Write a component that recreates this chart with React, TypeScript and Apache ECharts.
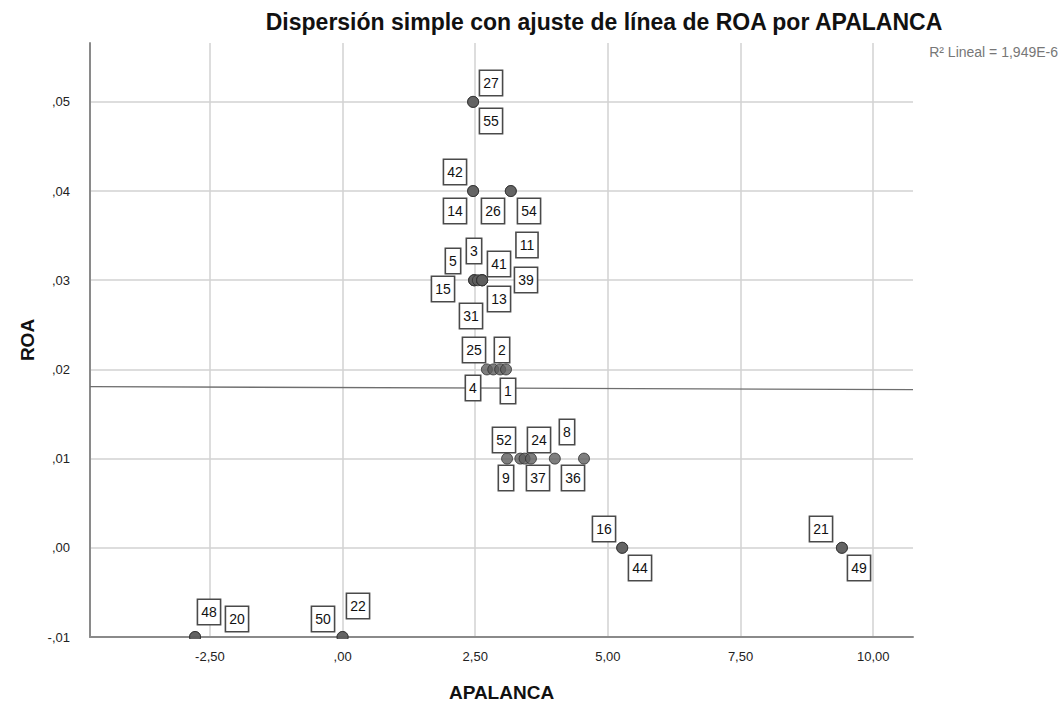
import React, { useEffect, useRef } from "react";
import * as echarts from "echarts";

// ---- Data ----
const CASE_IDS = [
  "27", "55",
  "42", "14", "26", "54",
  "3", "5", "15", "31", "41", "13", "11", "39",
  "25", "4", "2", "1",
  "9", "52", "37", "24", "8", "36",
  "16", "44", "21", "49",
  "48", "20", "50", "22",
];
const APALANCA = [
  2.46, 2.46,
  2.46, 2.46, 3.17, 3.17,
  2.48, 2.48, 2.48, 2.55, 2.63, 2.63, 2.63, 2.63,
  2.72, 2.84, 2.97, 3.08,
  3.10, 3.35, 3.43, 3.55, 4.0, 4.55,
  5.27, 5.27, 9.41, 9.41,
  -2.78, -2.78, 0.0, 0.0,
];
const ROA = [
  0.05, 0.05,
  0.04, 0.04, 0.04, 0.04,
  0.03, 0.03, 0.03, 0.03, 0.03, 0.03, 0.03, 0.03,
  0.02, 0.02, 0.02, 0.02,
  0.01, 0.01, 0.01, 0.01, 0.01, 0.01,
  0.0, 0.0, 0.0, 0.0,
  -0.01, -0.01, -0.01, -0.01,
];
// Fit line: endpoints at x-axis extent
const FIT_X = [-4.76, 10.75];
const FIT_Y = [0.01807, 0.01774];
const X_TICKS = [-2.5, 0, 2.5, 5, 7.5, 10];
const Y_TICKS = [-0.01, 0, 0.01, 0.02, 0.03, 0.04, 0.05];
const R2_TEXT = "R² Lineal = 1,949E-6";
const TITLE = "Dispersión simple con ajuste de línea de ROA por APALANCA";

// ---- Layout: label offsets (px) for each case label ----
const LABEL_OFFSETS: Record<string, [number, number]> = {
  "27": [18, -19], "55": [18, 19],
  "42": [-18, -19], "14": [-18, 20], "26": [-18, 20], "54": [18, 20],
  "3": [0, -29], "5": [-21, -19], "15": [-31, 9], "31": [-7, 36],
  "41": [17, -16], "13": [17, 19], "11": [45, -35], "39": [44, 0],
  "25": [-13, -19], "4": [-20, 19], "2": [2, -19], "1": [2, 22],
  "9": [-1, 19], "52": [-16, -19], "37": [13, 19], "24": [8, -19], "8": [12, -27], "36": [-11, 19],
  "16": [-18, -19], "44": [18, 20], "21": [-21, -19], "49": [17, 20],
  "48": [14, -25], "20": [42, -18], "50": [-20, -18], "22": [15, -31],
};

const FONT = "Arial, 'Liberation Sans', sans-serif";

function spssFmt(v: number): string {
  let s = Math.abs(v).toFixed(2);
  if (s.startsWith("0")) s = s.slice(1);
  s = s.replace(".", ",");
  return (v < -1e-9 ? "-" : "") + s;
}

export default function App() {
  const ref = useRef<HTMLDivElement>(null);
  useEffect(() => {
    if (!ref.current) return;
    const chart = echarts.init(ref.current, undefined, { renderer: "svg" });
    const pts = CASE_IDS.map((id, i) => [APALANCA[i], ROA[i], i]);
    chart.setOption({
      animation: false,
      backgroundColor: "#ffffff",
      grid: { left: 90, right: 150, top: 43, bottom: 70, containLabel: false },
      xAxis: {
        type: "value",
        min: -4.76,
        max: 10.75,
        name: "APALANCA",
        nameLocation: "middle",
        nameGap: 46,
        nameTextStyle: { fontFamily: FONT, fontSize: 19, fontWeight: "bold", color: "#111" },
        axisLine: { show: true, onZero: false, lineStyle: { color: "#8a8a8a", width: 2 } },
        axisTick: { show: false, customValues: X_TICKS },
        axisLabel: {
          customValues: X_TICKS,
          formatter: (v: number) => spssFmt(v),
          fontFamily: FONT,
          fontSize: 13,
          color: "#222",
          margin: 13,
        },
        splitLine: { show: true, lineStyle: { color: "#d2d2d2", width: 1.5 } },
      },
      yAxis: {
        type: "value",
        min: -0.01,
        max: 0.0566,
        name: "ROA",
        nameLocation: "middle",
        nameGap: 49,
        nameRotate: 90,
        nameTextStyle: { fontFamily: FONT, fontSize: 19, fontWeight: "bold", color: "#111" },
        axisLine: { show: true, onZero: false, lineStyle: { color: "#8a8a8a", width: 2 } },
        axisTick: { show: false, customValues: Y_TICKS },
        axisLabel: {
          customValues: Y_TICKS,
          formatter: (v: number) => spssFmt(v),
          fontFamily: FONT,
          fontSize: 13,
          color: "#222",
          margin: 20,
        },
        splitLine: { show: true, lineStyle: { color: "#d2d2d2", width: 1.5 } },
      },
      graphic: [
        {
          type: "text",
          x: 604,
          y: 22,
          style: {
            text: TITLE,
            fontFamily: FONT,
            fontSize: 23,
            fontWeight: "bold",
            fill: "#111",
            textAlign: "center",
            textVerticalAlign: "middle",
          },
        },
        {
          type: "text",
          x: 1058,
          y: 52,
          style: {
            text: R2_TEXT,
            fontFamily: FONT,
            fontSize: 14,
            fill: "#777",
            textAlign: "right",
            textVerticalAlign: "middle",
          },
        },
        {
          type: "rect",
          z: 100,
          shape: { x: 91, y: 639, width: 830, height: 8 },
          style: { fill: "#ffffff" },
        },
      ],
      series: [
        {
          type: "line",
          data: [[FIT_X[0], FIT_Y[0]], [FIT_X[1], FIT_Y[1]]],
          showSymbol: false,
          symbol: "none",
          lineStyle: { color: "#6e6e6e", width: 1.3 },
          z: 3,
          silent: true,
        },
        {
          type: "scatter",
          data: pts.map((p) => [p[0], p[1]]),
          symbol: "circle",
          symbolSize: 11,
          clip: false,
          itemStyle: { color: "#5e5e5e", borderColor: "#303030", borderWidth: 1 },
          z: 4,
        },
        {
          type: "custom",
          data: pts,
          clip: false,
          z: 5,
          silent: true,
          renderItem: (params: any, api: any) => {
            const idx = api.value(2);
            const id = CASE_IDS[idx];
            const c = api.coord([api.value(0), api.value(1)]);
            const off = LABEL_OFFSETS[id] || [0, 0];
            return {
              type: "text",
              x: Math.round(c[0] + off[0]),
              y: Math.round(c[1] + off[1]),
              style: {
                text: id,
                fontFamily: FONT,
                fontSize: 14,
                lineHeight: 16,
                fill: "#111",
                align: "center",
                verticalAlign: "middle",
                backgroundColor: "#ffffff",
                borderColor: "#4a4a4a",
                borderWidth: 1.6,
                padding: [4, 3, 4, 3],
              },
            };
          },
        },
      ],
    });
    return () => chart.dispose();
  }, []);
  return (
    <div
      ref={ref}
      style={{ position: "fixed", left: 0, top: 0, width: 1063, height: 707 }}
    />
  );
}
